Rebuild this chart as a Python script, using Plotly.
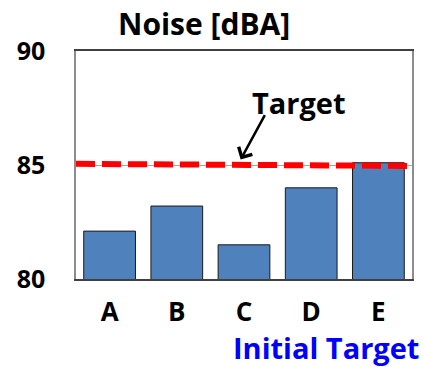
import plotly.graph_objects as go

# Noise level per design option
categories = ["A", "B", "C", "D", "E"]
noise_dba = [82.1, 83.2, 81.5, 84.0, 85.1]

# Target line endpoints (slightly sloped as drawn)
target_x = [-0.5, 4.5]
target_y = [85.05, 84.96]

y_ticks = [80, 85, 90]

FONT = "Open Sans"
positions = list(range(len(categories)))

fig = go.Figure()

fig.add_trace(go.Bar(
    x=positions,
    y=noise_dba,
    base=0,
    width=0.77,
    marker=dict(color="#4F81BD", line=dict(color="#1a1a1a", width=1)),
    showlegend=False,
    hoverinfo="skip",
))

fig.add_trace(go.Scatter(
    x=target_x,
    y=target_y,
    mode="lines",
    line=dict(color="#FF0000", width=6, dash="19px,7px"),
    showlegend=False,
    hoverinfo="skip",
    cliponaxis=False,
))

fig.update_layout(
    width=423,
    height=367,
    margin=dict(l=76, r=9, t=51, b=88),
    paper_bgcolor="white",
    plot_bgcolor="white",
    font=dict(family=FONT, color="black"),
    xaxis=dict(
        range=[-0.5, 4.5],
        tickvals=positions,
        ticktext=[f"<b>{c}</b>" for c in categories],
        tickfont=dict(family=FONT, size=26, color="black"),
        showline=True,
        linecolor="#404040",
        linewidth=1.5,
        mirror=True,
        showgrid=False,
        zeroline=False,
        ticks="",
        ticklabelstandoff=9,
    ),
    yaxis=dict(
        range=[80, 90],
        tickvals=y_ticks,
        ticktext=[f"<b>{v}</b>" for v in y_ticks],
        tickfont=dict(family=FONT, size=25, color="black"),
        showline=True,
        linecolor="#8c8c8c",
        linewidth=1.5,
        mirror=True,
        showgrid=True,
        gridcolor="#a6a6a6",
        gridwidth=1,
        zeroline=False,
        ticks="",
        ticklabelstandoff=24,
    ),
    annotations=[
        dict(
            text="<b>Noise [dBA]</b>",
            xref="paper", yref="paper",
            x=(205 - 76) / 338, y=1 + (51 - 23) / 228,
            xanchor="center", yanchor="middle",
            showarrow=False,
            font=dict(family=FONT, size=30, color="black"),
        ),
        dict(
            text="<b>Target</b>",
            xref="paper", yref="paper",
            x=(300 - 76) / 338, y=(279 - 102) / 228,
            xanchor="center", yanchor="middle",
            showarrow=False,
            font=dict(family=FONT, size=29, color="black"),
        ),
        dict(
            text="",
            x=1.95, y=85.24,
            xref="x", yref="y",
            ax=25, ay=-46,
            showarrow=True,
            arrowhead=4,
            arrowsize=1.2,
            arrowwidth=2.5,
            arrowcolor="black",
        ),
        dict(
            text="<b>Initial Target</b>",
            xref="paper", yref="paper",
            x=(423 - 76) / 338, y=-(347 - 279) / 228,
            xanchor="right", yanchor="middle",
            showarrow=False,
            font=dict(family=FONT, size=29, color="#0000FF"),
        ),
    ],
)

fig.write_html("out.html")
